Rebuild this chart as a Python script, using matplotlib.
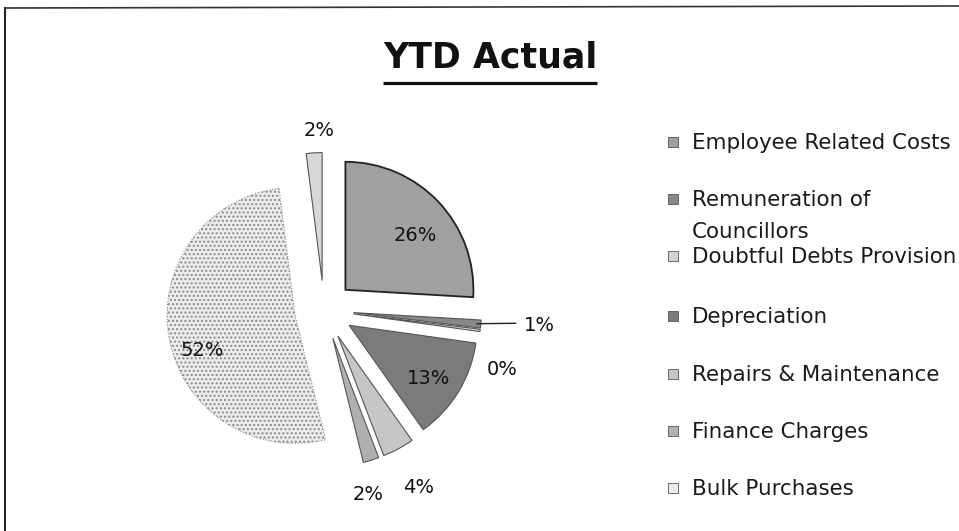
import numpy as np
import matplotlib
matplotlib.use('Agg')
import matplotlib.pyplot as plt
from matplotlib.patches import Rectangle

plt.rcParams['font.family'] = ['DejaVu Sans']
plt.rcParams['hatch.color'] = '#bdbdbd'

# ---- data ----
legend_labels = ['Employee Related Costs', 'Remuneration of\nCouncillors',
                 'Doubtful Debts Provision', 'Depreciation',
                 'Repairs & Maintenance', 'Finance Charges', 'Bulk Purchases']
# last slice is not in the (cut off) legend
shares = [26, 1, 0.3, 13, 4, 2, 52, 2]
colors = ['#a0a0a0', '#888888', '#d2d2d2', '#7b7b7b', '#c6c6c6', '#b0b0b0',
          '#ececec', '#d8d8d8']

# label placement (radius, angle nudge in degrees) - style only
label_pos = [(0.92, -4), (1.69, 1), (1.47, -11), (0.98, -2), (1.57, 0),
             (1.48, -4), (1.0, 8), (1.40, -2)]

W, H = 959, 531
CX, CY, R = 324, 310, 128   # pie centre / radius in pixels

fig = plt.figure(figsize=(W / 100, H / 100), dpi=100, facecolor='white')
ax = fig.add_axes([0, 0, 1, 1])

wedges, _ = ax.pie(shares, colors=colors, startangle=90, counterclock=False,
                   explode=[0.23] * len(shares), radius=1,
                   wedgeprops=dict(edgecolor='#555555', linewidth=0.8))
wedges[0].set_edgecolor('#222222')
wedges[0].set_linewidth(1.3)
wedges[6].set_edgecolor('#8a8a8a')
wedges[6].set_linestyle(':')
wedges[6].set_hatch('....')

ax.set_xlim(-CX / R, (W - CX) / R)
ax.set_ylim(-(H - CY) / R, CY / R)
ax.set_aspect('auto')
ax.axis('off')

total = sum(shares)
for w, v, (r, nud) in zip(wedges, shares, label_pos):
    mid = np.deg2rad((w.theta1 + w.theta2) / 2 + nud)
    ax.text(r * np.cos(mid), r * np.sin(mid), f'{round(100 * v / total)}%',
            ha='center', va='center', fontsize=14, color='#111111', zorder=5)

# leader line for the 1% slice
w1 = wedges[1]
m1 = np.deg2rad((w1.theta1 + w1.theta2) / 2)
ax.plot([1.2 * np.cos(m1), 1.5 * np.cos(m1 + 0.02)],
        [1.2 * np.sin(m1), 1.5 * np.sin(m1 + 0.02)],
        color='#222222', lw=1, zorder=4)

# ---- overlay in pixel coords for title, legend and frame ----
ov = fig.add_axes([0, 0, 1, 1], facecolor='none')
ov.set_xlim(0, W)
ov.set_ylim(H, 0)
ov.axis('off')

ov.plot([5, 5], [8, H], color='#222222', lw=1.5)
ov.plot([5, W], [8, 6], color='#333333', lw=1.2)


def fit(txt, width):
    # scale font so the text spans the wanted pixel width
    fig.canvas.draw()
    cur = txt.get_window_extent().width
    txt.set_fontsize(txt.get_fontsize() * width / cur)


title = ov.text(490, 57, 'YTD Actual', ha='center', va='center',
                fontsize=24, fontweight='bold', color='#111111')
fit(title, 214)
fig.canvas.draw()
bb = title.get_window_extent()
ov.plot([bb.x0, bb.x1], [83, 83], color='#111111', lw=2.3,
        solid_capstyle='butt')

legend_y = [143, 200, 257, 317, 375, 432, 489]
legend_txt = []
for lab, col, y in zip(legend_labels, colors, legend_y):
    ov.add_patch(Rectangle((668, y - 6), 10, 10, facecolor=col,
                           edgecolor='#555555', lw=0.6))
    for k, line in enumerate(lab.split('\n')):
        legend_txt.append(ov.text(692, y + 32 * k, line, ha='left',
                                  va='center', fontsize=14, color='#1a1a1a'))

fit(legend_txt[0], 260)
for t in legend_txt[1:]:
    t.set_fontsize(legend_txt[0].get_fontsize())

fig.savefig('out.png', dpi=100, facecolor='white')
